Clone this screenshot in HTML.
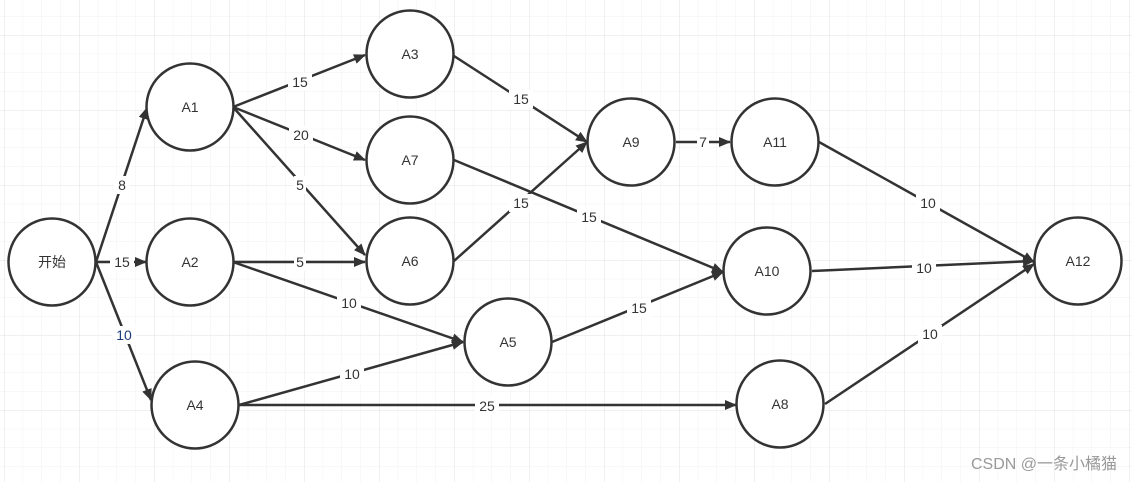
<!DOCTYPE html>
<html><head><meta charset="utf-8"><style>
html,body{margin:0;padding:0;background:#fff;}
svg{display:block;}
text{font-family:"Liberation Sans","Noto Sans CJK SC",sans-serif;}
</style></head><body>
<svg width="1132" height="482" viewBox="0 0 1132 482" xmlns="http://www.w3.org/2000/svg">
<defs>
<pattern id="minor" x="4" y="35" width="18.75" height="18.75" patternUnits="userSpaceOnUse">
<path d="M0 0H18.75M0 0V18.75" stroke="#f0f0f0" stroke-width="1" fill="none"/>
</pattern>
<pattern id="major" x="4" y="35" width="75" height="75" patternUnits="userSpaceOnUse">
<path d="M0 0H75M0 0V75" stroke="#e2e2e2" stroke-width="1" fill="none"/>
</pattern>
<marker id="ar" markerWidth="12" markerHeight="10" refX="11" refY="5" orient="auto" markerUnits="userSpaceOnUse">
<path d="M0 0L12 5L0 10Z" fill="#333"/>
</marker>
</defs>
<rect width="1132" height="482" fill="#fff"/>
<rect width="1132" height="482" fill="url(#minor)"/>
<rect width="1132" height="482" fill="url(#major)"/>
<g stroke="#333" stroke-width="2.5" fill="none" marker-end="url(#ar)">
<line x1="96" y1="262" x2="147" y2="108"/>
<line x1="96" y1="262" x2="146" y2="262"/>
<line x1="96" y1="262" x2="151" y2="400"/>
<line x1="233" y1="107" x2="365" y2="55"/>
<line x1="233" y1="107" x2="365" y2="160"/>
<line x1="233" y1="107" x2="365" y2="255"/>
<line x1="233" y1="262" x2="365" y2="262"/>
<line x1="233" y1="262" x2="463" y2="342"/>
<line x1="239" y1="405" x2="463" y2="342"/>
<line x1="239" y1="405" x2="736" y2="405"/>
<line x1="454" y1="56" x2="587" y2="142"/>
<line x1="454" y1="261" x2="587" y2="142"/>
<line x1="454" y1="160" x2="723" y2="272"/>
<line x1="552" y1="342" x2="723" y2="272"/>
<line x1="676" y1="142" x2="730" y2="142"/>
<line x1="819" y1="142" x2="1034" y2="262"/>
<line x1="812" y1="271" x2="1034" y2="261"/>
<line x1="825" y1="404" x2="1034" y2="264"/>
</g>
<g font-size="14" fill="#333" text-anchor="middle" dominant-baseline="central">
<g fill="#fff" stroke="none">
<rect x="114" y="176" width="16" height="18"/><rect x="110" y="253" width="24" height="18"/><rect x="112" y="326" width="24" height="18"/>
<rect x="288" y="73" width="24" height="18"/><rect x="289" y="126" width="24" height="18"/><rect x="294" y="176" width="12" height="18"/>
<rect x="294" y="253" width="12" height="18"/><rect x="337" y="294" width="24" height="18"/><rect x="340" y="365" width="24" height="18"/>
<rect x="475" y="397" width="24" height="18"/><rect x="509" y="90" width="24" height="18"/><rect x="509" y="194" width="24" height="18"/>
<rect x="577" y="208" width="24" height="18"/><rect x="627" y="299" width="24" height="18"/><rect x="697" y="133" width="12" height="18"/>
<rect x="916" y="194" width="24" height="18"/><rect x="912" y="259" width="24" height="18"/><rect x="918" y="325" width="24" height="18"/>
</g>
<text x="122" y="185">8</text><text x="122" y="262">15</text><text x="124" y="335" fill="#1a3a7a">10</text>
<text x="300" y="82">15</text><text x="301" y="135">20</text><text x="300" y="185">5</text>
<text x="300" y="262">5</text><text x="349" y="303">10</text><text x="352" y="374">10</text>
<text x="487" y="406">25</text><text x="521" y="99">15</text><text x="521" y="203">15</text>
<text x="589" y="217">15</text><text x="639" y="308">15</text><text x="703" y="142">7</text>
<text x="928" y="203">10</text><text x="924" y="268">10</text><text x="930" y="334">10</text>
</g>
<g stroke="#333" stroke-width="2.5" fill="#fff">
<circle cx="52" cy="262" r="43.5"/>
<circle cx="190" cy="107" r="43.5"/>
<circle cx="190" cy="262" r="43.5"/>
<circle cx="195" cy="405" r="43.5"/>
<circle cx="410" cy="54" r="43.5"/>
<circle cx="410" cy="160" r="43.5"/>
<circle cx="410" cy="261" r="43.5"/>
<circle cx="508" cy="342" r="43.5"/>
<circle cx="631" cy="142" r="43.5"/>
<circle cx="775" cy="142" r="43.5"/>
<circle cx="767" cy="271" r="43.5"/>
<circle cx="780" cy="404" r="43.5"/>
<circle cx="1078" cy="261" r="43.5"/>
</g>
<g font-size="14" fill="#333" text-anchor="middle" dominant-baseline="central">
<text x="52" y="262">开始</text><text x="190" y="107">A1</text><text x="190" y="262">A2</text>
<text x="195" y="405">A4</text><text x="410" y="54">A3</text><text x="410" y="160">A7</text>
<text x="410" y="261">A6</text><text x="508" y="342">A5</text><text x="631" y="142">A9</text>
<text x="775" y="142">A11</text><text x="767" y="271">A10</text><text x="780" y="404">A8</text>
<text x="1078" y="261">A12</text>
</g>
<text x="1117" y="469" font-size="16" fill="#999" text-anchor="end">CSDN @一条小橘猫</text>
</svg>
</body></html>
